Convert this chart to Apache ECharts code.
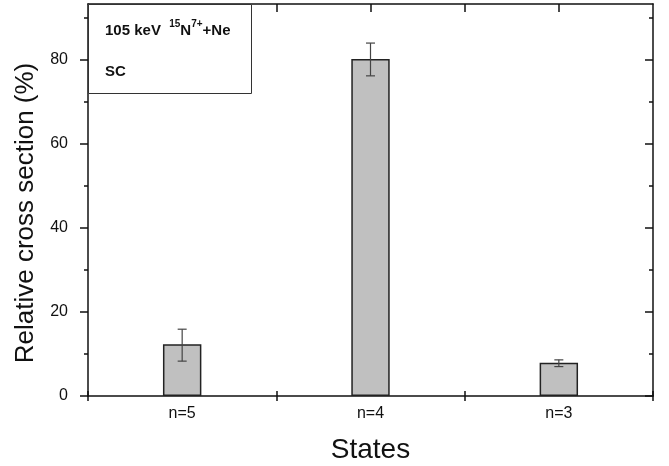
<!DOCTYPE html>
<html>
<head>
<meta charset="utf-8">
<script src="https://cdn.jsdelivr.net/npm/echarts@6/dist/echarts.min.js"></script>
<style>
  html, body { margin: 0; padding: 0; background: #fff; }
  #chart { width: 669px; height: 466px; }
</style>
</head>
<body>
<div id="chart"></div>
<script>
// data
const categories = ['n=5', 'n=4', 'n=3']
const values = [12.3, 80.2, 7.9]
const errLow = [8.3, 76.2, 7.0]
const errHigh = [15.9, 84.0, 8.6]
const yTicks = [0, 20, 40, 60, 80]
const yMinorTicks = [10, 30, 50, 70, 90]
const yMax = 93.3
// top frame has a tick every half category
const topTicks = [0.5, 1, 1.5, 2, 2.5]

const font = 'Liberation Sans, Arial, sans-serif'
const lineCol = '#111'

const chart = echarts.init(document.getElementById('chart'))

const errData = categories.map((c, i) => [i, errLow[i], errHigh[i]])

function renderErr(params, api) {
  const lo = api.coord([api.value(0), api.value(1)])
  const hi = api.coord([api.value(0), api.value(2)])
  const w = 4.5
  const style = { stroke: '#444', lineWidth: 1.2 }
  return {
    type: 'group',
    children: [
      { type: 'line', shape: { x1: lo[0], y1: lo[1], x2: hi[0], y2: hi[1] }, style: style },
      { type: 'line', shape: { x1: lo[0] - w, y1: lo[1], x2: lo[0] + w, y2: lo[1] }, style: style },
      { type: 'line', shape: { x1: hi[0] - w, y1: hi[1], x2: hi[0] + w, y2: hi[1] }, style: style }
    ]
  }
}

const hiddenLabel = { show: false }

chart.setOption({
  backgroundColor: '#fff',
  animation: false,
  grid: {
    left: 88,
    right: 16,
    top: 4,
    bottom: 70,
    outerBoundsMode: 'none'
  },
  xAxis: [{
    type: 'category',
    position: 'bottom',
    data: categories,
    name: 'States',
    nameLocation: 'middle',
    nameGap: 40,
    nameTextStyle: { fontFamily: font, fontSize: 28, color: lineCol },
    axisLine: { onZero: false, lineStyle: { color: lineCol, width: 1.5 } },
    axisTick: { show: true, interval: 0, length: 5, lineStyle: { color: lineCol, width: 1.5 } },
    axisLabel: { fontFamily: font, fontSize: 16, color: lineCol, margin: 10 },
    splitLine: { show: false }
  }, {
    // inner half of the crossing ticks
    type: 'category',
    position: 'bottom',
    data: categories,
    axisLine: { show: false, onZero: false },
    axisTick: { show: true, interval: 0, inside: true, length: 5, lineStyle: { color: lineCol, width: 1.5 } },
    axisLabel: hiddenLabel,
    splitLine: { show: false }
  }, {
    // top frame
    type: 'value',
    position: 'top',
    min: 0,
    max: 3,
    axisLine: { show: true, onZero: false, lineStyle: { color: lineCol, width: 1.5 } },
    axisTick: { show: true, inside: true, length: 8, customValues: topTicks, lineStyle: { color: lineCol, width: 1.5 } },
    axisLabel: hiddenLabel,
    splitLine: { show: false }
  }],
  yAxis: [{
    type: 'value',
    position: 'left',
    min: 0,
    max: yMax,
    name: 'Relative cross section (%)',
    nameLocation: 'middle',
    nameGap: 37,
    nameTextStyle: { fontFamily: font, fontSize: 26, color: lineCol, padding: [0, 26, 0, 0] },
    axisLine: { show: true, onZero: false, lineStyle: { color: lineCol, width: 1.5 } },
    axisTick: { show: true, length: 8, customValues: yTicks, lineStyle: { color: lineCol, width: 1.5 } },
    axisLabel: { fontFamily: font, fontSize: 16, color: lineCol, margin: 20, customValues: yTicks },
    splitLine: { show: false }
  }, {
    type: 'value',
    position: 'left',
    min: 0,
    max: yMax,
    axisLine: { show: false, onZero: false },
    axisTick: { show: true, length: 4, customValues: yMinorTicks, lineStyle: { color: lineCol, width: 1.5 } },
    axisLabel: hiddenLabel,
    splitLine: { show: false }
  }, {
    type: 'value',
    position: 'right',
    min: 0,
    max: yMax,
    axisLine: { show: true, onZero: false, lineStyle: { color: lineCol, width: 1.5 } },
    axisTick: { show: true, inside: true, length: 8, customValues: yTicks, lineStyle: { color: lineCol, width: 1.5 } },
    axisLabel: hiddenLabel,
    splitLine: { show: false }
  }, {
    type: 'value',
    position: 'right',
    min: 0,
    max: yMax,
    axisLine: { show: false, onZero: false },
    axisTick: { show: true, inside: true, length: 4, customValues: yMinorTicks, lineStyle: { color: lineCol, width: 1.5 } },
    axisLabel: hiddenLabel,
    splitLine: { show: false }
  }],
  series: [{
    type: 'bar',
    data: values,
    barWidth: '20.4%',
    itemStyle: {
      color: '#c0c0c0',
      borderColor: '#222',
      borderWidth: 1.5
    },
    z: 2
  }, {
    type: 'custom',
    data: errData,
    renderItem: renderErr,
    encode: { x: 0, y: [1, 2] },
    z: 3
  }],
  graphic: [{
    type: 'rect',
    left: 88,
    top: 4,
    shape: { width: 163, height: 89 },
    style: { fill: '#fff', stroke: '#333', lineWidth: 1 },
    z: 10
  }, {
    type: 'text',
    left: 105,
    top: 19,
    z: 11,
    style: {
      text: '{a|105 keV  }{s|15}{a|N}{s|7+}{a|+Ne}',
      rich: {
        a: { fontFamily: font, fontSize: 15, fontWeight: 'bold', fill: '#111', lineHeight: 19, verticalAlign: 'bottom' },
        s: { fontFamily: font, fontSize: 10, fontWeight: 'bold', fill: '#111', lineHeight: 19, verticalAlign: 'top' }
      }
    }
  }, {
    type: 'text',
    left: 105,
    top: 64,
    z: 11,
    style: { text: 'SC', font: 'bold 15px Liberation Sans, Arial, sans-serif', fill: '#111' }
  }]
})
</script>
</body>
</html>
